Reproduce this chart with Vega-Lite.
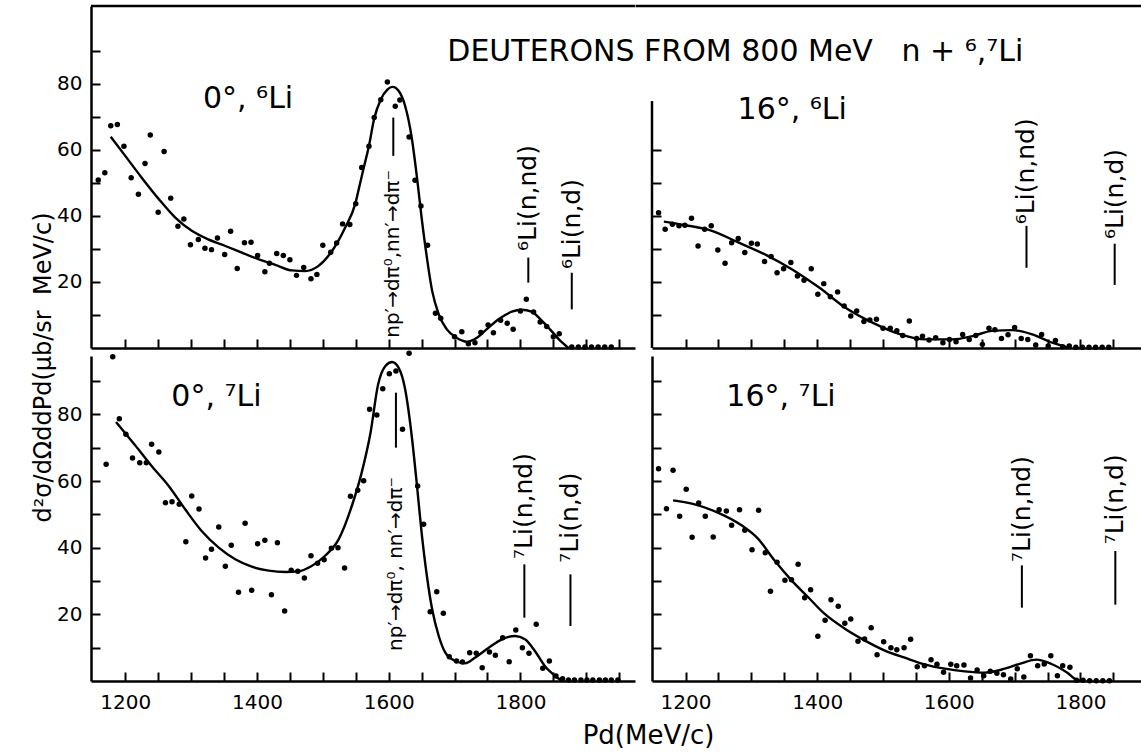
{
"$schema": "https://vega.github.io/schema/vega-lite/v6.json",
"autosize": {"type": "pad"},
"padding": {"left": 31, "top": 4, "right": 0, "bottom": 0},
"background": "white",
"bounds": "flush",
"columns": 2,
"spacing": {"row": 8, "column": 17},
"config": {
  "view": {"stroke": null},
  "font": "DejaVu Sans",
  "text": {"font": "DejaVu Sans", "color": "black"},
  "axis": {"domainColor": "black", "domainWidth": 2.5, "tickColor": "black", "tickWidth": 2, "tickSize": -9, "labelColor": "black", "labelFont": "DejaVu Sans", "labelFontSize": 20, "grid": false, "labelFlush": false, "labelOverlap": false, "titleColor": "black", "titleFont": "DejaVu Sans", "titleFontWeight": "normal"},
  "axisX": {"labelPadding": 20},
  "axisY": {"labelPadding": 18}
},
"datasets": {
  "tl_pts": [
    {"P":1159,"v":50.9},{"P":1169,"v":53.1},{"P":1178,"v":67.3},{"P":1188,"v":67.7},{"P":1198,"v":61.1},{"P":1209,"v":51.6},{"P":1220,"v":46.6},{"P":1230,"v":55.9},{"P":1238,"v":64.5},{"P":1250,"v":41.1},{"P":1259,"v":59.5},{"P":1269,"v":45.4},{"P":1280,"v":36.9},{"P":1289,"v":39.1},{"P":1299,"v":31.3},{"P":1311,"v":32.9},{"P":1321,"v":30.2},{"P":1331,"v":29.8},{"P":1340,"v":33.3},{"P":1351,"v":28.3},{"P":1360,"v":35.4},{"P":1370,"v":24.1},{"P":1381,"v":31.9},{"P":1391,"v":32.0},{"P":1401,"v":28.0},{"P":1412,"v":23.1},{"P":1419,"v":25.7},{"P":1430,"v":28.6},{"P":1440,"v":28.0},{"P":1450,"v":26.7},{"P":1460,"v":22.0},{"P":1471,"v":24.4},{"P":1482,"v":21.0},{"P":1491,"v":22.3},{"P":1500,"v":31.1},{"P":1512,"v":29.0},{"P":1521,"v":31.8},{"P":1530,"v":37.6},{"P":1541,"v":37.4},{"P":1550,"v":43.7},{"P":1559,"v":54.7},{"P":1570,"v":61.1},{"P":1578,"v":69.8},{"P":1588,"v":75.2},{"P":1598,"v":80.6},{"P":1610,"v":73.2},{"P":1617,"v":75.1},{"P":1631,"v":63.9},{"P":1640,"v":50.8},{"P":1649,"v":43.0},{"P":1659,"v":31.1},{"P":1671,"v":10.5},{"P":1679,"v":9.0},{"P":1700,"v":3.4},{"P":1711,"v":4.9},{"P":1721,"v":1.3},{"P":1731,"v":1.6},{"P":1740,"v":4.7},{"P":1751,"v":7.0},{"P":1759,"v":4.6},{"P":1770,"v":8.4},{"P":1780,"v":7.5},{"P":1789,"v":5.7},{"P":1800,"v":11.2},{"P":1809,"v":14.8},{"P":1820,"v":10.9},{"P":1830,"v":7.9},{"P":1840,"v":6.5},{"P":1850,"v":3.4},{"P":1859,"v":4.3},{"P":1878,"v":0.3},{"P":1888,"v":0.3},{"P":1898,"v":0.3},{"P":1908,"v":0.3},{"P":1918,"v":0.3},{"P":1928,"v":0.3},{"P":1938,"v":0.3}
  ],
  "tl_fit": [
    {"P":1178,"v":64.0},{"P":1200,"v":58.2},{"P":1225,"v":51.6},{"P":1251,"v":45.1},{"P":1276,"v":39.5},{"P":1301,"v":35.5},{"P":1326,"v":32.9},{"P":1352,"v":30.9},{"P":1377,"v":28.9},{"P":1402,"v":26.9},{"P":1428,"v":25.2},{"P":1453,"v":23.5},{"P":1473,"v":23.3},{"P":1493,"v":24.8},{"P":1514,"v":29.4},{"P":1534,"v":36.5},{"P":1549,"v":43.5},{"P":1556,"v":49.4},{"P":1562,"v":54.5},{"P":1570,"v":61.2},{"P":1578,"v":69.5},{"P":1588,"v":75.3},{"P":1598,"v":78.3},{"P":1606,"v":79.1},{"P":1615,"v":77.9},{"P":1625,"v":73.3},{"P":1635,"v":63.7},{"P":1643,"v":51.6},{"P":1650,"v":39.5},{"P":1658,"v":27.4},{"P":1666,"v":17.3},{"P":1676,"v":10.2},{"P":1688,"v":5.7},{"P":1703,"v":3.1},{"P":1719,"v":1.9},{"P":1734,"v":3.1},{"P":1749,"v":5.7},{"P":1769,"v":9.0},{"P":1787,"v":11.0},{"P":1802,"v":11.6},{"P":1817,"v":11.0},{"P":1832,"v":8.4},{"P":1847,"v":5.2},{"P":1860,"v":2.3},{"P":1873,"v":0}
  ],
  "tl_rules": [{"P":1607,"v":58.2,"v2":69.8},{"P":1812,"v":19.8,"v2":27.4},{"P":1878,"v":11.7,"v2":22.8}],
  "tl_frame": [{"P":1148,"P2":1974,"v":103.6,"v2":103.6}],
  "tl_np": [{"P":1607,"v":3.1,"label":"np′→dπ⁰,nn′→dπ⁻"}],
  "tl_li": [{"P":1812,"v":29.4,"label":"⁶Li(n,nd)"},{"P":1878,"v":23.9,"label":"⁶Li(n,d)"}],
  "tl_lab": [{"P":1318,"v":72.6,"label":"0°, ⁶Li"},{"P":1689,"v":87,"label":"DEUTERONS FROM 800 MeV\u00a0\u00a0\u00a0n + ⁶,⁷Li"}],
  "bl_pts": [
    {"P":1181,"v":97.3},{"P":1171,"v":65.0},{"P":1191,"v":78.7},{"P":1201,"v":74.0},{"P":1211,"v":66.9},{"P":1222,"v":65.5},{"P":1232,"v":65.5},{"P":1240,"v":71.0},{"P":1251,"v":68.7},{"P":1261,"v":53.5},{"P":1271,"v":53.8},{"P":1282,"v":53.0},{"P":1292,"v":41.8},{"P":1301,"v":55.5},{"P":1312,"v":51.6},{"P":1322,"v":36.9},{"P":1331,"v":39.5},{"P":1342,"v":46.2},{"P":1352,"v":34.4},{"P":1361,"v":40.7},{"P":1372,"v":26.6},{"P":1382,"v":47.3},{"P":1392,"v":27.2},{"P":1401,"v":41.2},{"P":1412,"v":42.2},{"P":1422,"v":25.9},{"P":1431,"v":41.5},{"P":1442,"v":21.0},{"P":1452,"v":33.2},{"P":1462,"v":32.9},{"P":1472,"v":30.9},{"P":1482,"v":37.6},{"P":1492,"v":35.3},{"P":1502,"v":36.4},{"P":1513,"v":39.8},{"P":1523,"v":40.0},{"P":1533,"v":33.9},{"P":1542,"v":55.4},{"P":1553,"v":57.2},{"P":1562,"v":60.1},{"P":1571,"v":81.5},{"P":1582,"v":79.8},{"P":1591,"v":87.7},{"P":1601,"v":92.2},{"P":1611,"v":93.0},{"P":1621,"v":75.5},{"P":1631,"v":98.3},{"P":1644,"v":58.5},{"P":1653,"v":47.0},{"P":1663,"v":20.8},{"P":1673,"v":26.8},{"P":1683,"v":20.3},{"P":1692,"v":7.3},{"P":1703,"v":6.0},{"P":1712,"v":5.7},{"P":1723,"v":8.5},{"P":1733,"v":8.3},{"P":1742,"v":4.0},{"P":1753,"v":8.7},{"P":1762,"v":7.7},{"P":1773,"v":13.0},{"P":1783,"v":5.8},{"P":1793,"v":15.3},{"P":1803,"v":10.0},{"P":1813,"v":8.3},{"P":1824,"v":17.0},{"P":1834,"v":3.8},{"P":1844,"v":6.0},{"P":1854,"v":1.5},{"P":1864,"v":0.7},{"P":1873,"v":0.3},{"P":1882,"v":0.3},{"P":1892,"v":0.3},{"P":1901,"v":0.3},{"P":1910,"v":0.3},{"P":1920,"v":0.3},{"P":1929,"v":0.3},{"P":1938,"v":0.3},{"P":1948,"v":0.3}
  ],
  "bl_fit": [
    {"P":1186,"v":77.7},{"P":1215,"v":70.7},{"P":1240,"v":64.5},{"P":1266,"v":58.5},{"P":1291,"v":51.5},{"P":1316,"v":45.0},{"P":1342,"v":40.0},{"P":1367,"v":36.5},{"P":1392,"v":34.3},{"P":1418,"v":33.1},{"P":1443,"v":32.7},{"P":1463,"v":32.9},{"P":1483,"v":34.5},{"P":1503,"v":37.5},{"P":1524,"v":42.5},{"P":1544,"v":52.5},{"P":1559,"v":62.5},{"P":1572,"v":74.0},{"P":1584,"v":89.0},{"P":1595,"v":94.5},{"P":1605,"v":95.7},{"P":1615,"v":94.0},{"P":1625,"v":87.5},{"P":1635,"v":73.5},{"P":1643,"v":58.5},{"P":1650,"v":44.5},{"P":1658,"v":31.5},{"P":1666,"v":21.5},{"P":1676,"v":13.5},{"P":1686,"v":8.5},{"P":1701,"v":6.0},{"P":1716,"v":5.3},{"P":1731,"v":7.0},{"P":1752,"v":10.0},{"P":1772,"v":12.5},{"P":1792,"v":13.5},{"P":1807,"v":12.5},{"P":1822,"v":9.0},{"P":1837,"v":4.5},{"P":1853,"v":1.5},{"P":1863,"v":0}
  ],
  "bl_rules": [{"P":1611,"v":70,"v2":86.5},{"P":1806,"v":19,"v2":35},{"P":1876,"v":16.5,"v2":32}],
  "bl_np": [{"P":1611,"v":9,"label":"np′→dπ⁰,\u00a0nn′→dπ⁻"}],
  "bl_li": [{"P":1806,"v":36.6,"label":"⁷Li(n,nd)"},{"P":1876,"v":35.5,"label":"⁷Li(n,d)"}],
  "bl_lab": [{"P":1270,"v":82.5,"label":"0°, ⁷Li"}],
  "tr_pts": [
    {"P":1159,"v":41.0},{"P":1169,"v":36.0},{"P":1180,"v":37.5},{"P":1190,"v":37.0},{"P":1199,"v":37.2},{"P":1209,"v":39.3},{"P":1219,"v":30.9},{"P":1229,"v":36.0},{"P":1239,"v":37.0},{"P":1249,"v":29.7},{"P":1260,"v":25.7},{"P":1270,"v":31.9},{"P":1280,"v":33.2},{"P":1290,"v":28.9},{"P":1300,"v":31.7},{"P":1309,"v":31.5},{"P":1320,"v":26.2},{"P":1330,"v":27.7},{"P":1339,"v":22.8},{"P":1349,"v":24.0},{"P":1360,"v":25.9},{"P":1370,"v":21.8},{"P":1380,"v":20.5},{"P":1391,"v":24.0},{"P":1401,"v":16.3},{"P":1410,"v":19.5},{"P":1420,"v":15.5},{"P":1431,"v":17.0},{"P":1441,"v":12.7},{"P":1451,"v":9.7},{"P":1460,"v":11.2},{"P":1471,"v":8.0},{"P":1480,"v":8.5},{"P":1490,"v":8.7},{"P":1500,"v":6.0},{"P":1511,"v":6.0},{"P":1521,"v":5.2},{"P":1530,"v":3.8},{"P":1540,"v":8.2},{"P":1551,"v":2.9},{"P":1560,"v":3.6},{"P":1570,"v":2.4},{"P":1580,"v":3.1},{"P":1591,"v":1.6},{"P":1601,"v":2.6},{"P":1611,"v":1.9},{"P":1621,"v":4.1},{"P":1631,"v":2.6},{"P":1641,"v":3.8},{"P":1651,"v":1.1},{"P":1661,"v":6.0},{"P":1670,"v":5.5},{"P":1680,"v":2.9},{"P":1690,"v":4.0},{"P":1700,"v":6.2},{"P":1710,"v":2.9},{"P":1720,"v":2.6},{"P":1732,"v":0.9},{"P":1741,"v":4.1},{"P":1751,"v":0.6},{"P":1762,"v":2.3},{"P":1773,"v":0.4},{"P":1783,"v":0.6},{"P":1793,"v":0.2},{"P":1803,"v":0.2},{"P":1813,"v":0.2},{"P":1823,"v":0.2},{"P":1833,"v":0.2},{"P":1843,"v":0.2}
  ],
  "tr_fit": [
    {"P":1167,"v":38.3},{"P":1200,"v":37.2},{"P":1240,"v":35.5},{"P":1281,"v":31.9},{"P":1322,"v":28.2},{"P":1362,"v":23.8},{"P":1403,"v":18.3},{"P":1443,"v":12.2},{"P":1484,"v":7.7},{"P":1524,"v":4.3},{"P":1565,"v":2.6},{"P":1605,"v":2.6},{"P":1636,"v":3.6},{"P":1666,"v":5.2},{"P":1697,"v":5.4},{"P":1727,"v":4.1},{"P":1757,"v":1.6},{"P":1783,"v":0}
  ],
  "tr_rules": [{"P":1718,"v":24.3,"v2":37},{"P":1852,"v":19.1,"v2":31.6}],
  "tr_frame": [{"P":1149,"P2":1149,"v":0,"v2":74.8},{"P":1124,"P2":1892,"v":103.6,"v2":103.6}],
  "tr_li": [{"P":1718,"v":37.5,"label":"⁶Li(n,nd)"},{"P":1852,"v":33,"label":"⁶Li(n,d)"}],
  "tr_lab": [{"P":1279,"v":69.4,"label":"16°, ⁶Li"}],
  "br_pts": [
    {"P":1159,"v":63.7},{"P":1171,"v":51.7},{"P":1181,"v":63.2},{"P":1191,"v":49.4},{"P":1201,"v":57.5},{"P":1210,"v":43.1},{"P":1220,"v":53.4},{"P":1230,"v":49.4},{"P":1242,"v":43.2},{"P":1251,"v":51.4},{"P":1262,"v":51.0},{"P":1270,"v":46.7},{"P":1282,"v":51.4},{"P":1290,"v":45.2},{"P":1301,"v":39.4},{"P":1311,"v":51.2},{"P":1321,"v":38.5},{"P":1329,"v":26.9},{"P":1339,"v":35.6},{"P":1351,"v":30.2},{"P":1361,"v":30.4},{"P":1371,"v":35.0},{"P":1381,"v":25.0},{"P":1390,"v":27.4},{"P":1401,"v":13.4},{"P":1412,"v":18.2},{"P":1421,"v":24.4},{"P":1432,"v":22.4},{"P":1442,"v":17.3},{"P":1451,"v":18.6},{"P":1462,"v":11.9},{"P":1472,"v":12.6},{"P":1482,"v":16.0},{"P":1491,"v":7.9},{"P":1501,"v":11.8},{"P":1512,"v":10.0},{"P":1521,"v":9.4},{"P":1532,"v":10.0},{"P":1542,"v":12.5},{"P":1552,"v":4.3},{"P":1563,"v":4.6},{"P":1573,"v":6.4},{"P":1582,"v":5.0},{"P":1592,"v":2.6},{"P":1603,"v":5.0},{"P":1612,"v":4.6},{"P":1623,"v":4.8},{"P":1633,"v":0.9},{"P":1643,"v":3.3},{"P":1653,"v":1.6},{"P":1663,"v":2.9},{"P":1673,"v":2.3},{"P":1683,"v":1.9},{"P":1694,"v":0.6},{"P":1704,"v":3.7},{"P":1714,"v":1.2},{"P":1724,"v":7.6},{"P":1735,"v":4.6},{"P":1745,"v":5.1},{"P":1755,"v":7.6},{"P":1765,"v":1.6},{"P":1773,"v":4.6},{"P":1784,"v":4.1},{"P":1794,"v":0.2},{"P":1804,"v":0.2},{"P":1814,"v":0.1},{"P":1824,"v":0.1},{"P":1834,"v":0.1},{"P":1844,"v":0.1}
  ],
  "br_fit": [
    {"P":1181,"v":54.2},{"P":1214,"v":53.0},{"P":1249,"v":50.5},{"P":1285,"v":46.7},{"P":1310,"v":42.7},{"P":1335,"v":36.2},{"P":1361,"v":30.2},{"P":1386,"v":25.2},{"P":1411,"v":20.2},{"P":1442,"v":15.7},{"P":1472,"v":12.2},{"P":1502,"v":9.2},{"P":1533,"v":7.0},{"P":1563,"v":5.0},{"P":1594,"v":3.7},{"P":1624,"v":2.9},{"P":1654,"v":2.5},{"P":1685,"v":3.7},{"P":1710,"v":5.3},{"P":1733,"v":6.4},{"P":1756,"v":5.1},{"P":1779,"v":2.6},{"P":1796,"v":0.2},{"P":1806,"v":0}
  ],
  "br_rules": [{"P":1711,"v":22,"v2":34.7},{"P":1853,"v":22.9,"v2":39}],
  "br_li": [{"P":1711,"v":35.7,"label":"⁷Li(n,nd)"},{"P":1853,"v":41,"label":"⁷Li(n,d)"}],
  "br_lab": [{"P":1262,"v":82.6,"label":"16°, ⁷Li"}]
},
"concat": [
  {
    "width": 544, "height": 342,
    "encoding": {
      "x": {"field": "P", "type": "quantitative", "scale": {"domain": [1148, 1974], "nice": false, "zero": false},
            "axis": {"values": [1200,1250,1300,1350,1400,1450,1500,1550,1600,1650,1700,1750,1800,1850,1900,1950], "labels": false, "title": null}},
      "y": {"field": "v", "type": "quantitative", "scale": {"domain": [0, 103.6], "nice": false, "zero": false},
            "axis": {"values": [10,20,30,40,50,60,70,80,90], "labelExpr": "datum.value % 20 == 0 ? datum.label : ''",
                     "title": "d²σ/dΩddPd(μb/sr\u00a0\u00a0MeV/c)", "titleX": -41, "titleY": 361, "titleAngle": 270, "titleAlign": "center", "titleBaseline": "alphabetic", "titleFontSize": 24}}
    },
    "layer": [
      {"data": {"name": "tl_pts"}, "mark": {"type": "circle", "size": 30, "color": "black", "opacity": 1}},
      {"data": {"name": "tl_fit"}, "mark": {"type": "line", "interpolate": "monotone", "strokeWidth": 2.4, "color": "black"}},
      {"data": {"name": "tl_rules"}, "mark": {"type": "rule", "strokeWidth": 2, "color": "black"}, "encoding": {"y2": {"field": "v2"}}},
      {"data": {"name": "tl_frame"}, "mark": {"type": "rule", "strokeWidth": 2.5, "color": "black"}, "encoding": {"x2": {"field": "P2"}, "y2": {"field": "v2"}}},
      {"data": {"name": "tl_np"}, "mark": {"type": "text", "angle": 270, "align": "left", "baseline": "middle", "fontSize": 20, "color": "black"}, "encoding": {"text": {"field": "label"}}},
      {"data": {"name": "tl_li"}, "mark": {"type": "text", "angle": 270, "align": "left", "baseline": "middle", "fontSize": 25, "color": "black"}, "encoding": {"text": {"field": "label"}}},
      {"data": {"name": "tl_lab"}, "mark": {"type": "text", "align": "left", "baseline": "alphabetic", "fontSize": 30, "color": "black"}, "encoding": {"text": {"field": "label"}}}
    ]
  },
  {
    "width": 489, "height": 342,
    "encoding": {
      "x": {"field": "P", "type": "quantitative", "scale": {"domain": [1149, 1892], "nice": false, "zero": false},
            "axis": {"values": [1200,1250,1300,1350,1400,1450,1500,1550,1600,1650,1700,1750,1800,1850], "labels": false, "title": null}},
      "y": {"field": "v", "type": "quantitative", "scale": {"domain": [0, 103.6], "nice": false, "zero": false},
            "axis": {"values": [10,20,30,40,50,60], "labels": false, "domain": false, "title": null}}
    },
    "layer": [
      {"data": {"name": "tr_pts"}, "mark": {"type": "circle", "size": 30, "color": "black", "opacity": 1}},
      {"data": {"name": "tr_fit"}, "mark": {"type": "line", "interpolate": "monotone", "strokeWidth": 2.4, "color": "black"}},
      {"data": {"name": "tr_rules"}, "mark": {"type": "rule", "strokeWidth": 2, "color": "black"}, "encoding": {"y2": {"field": "v2"}}},
      {"data": {"name": "tr_frame"}, "mark": {"type": "rule", "strokeWidth": 2.5, "color": "black"}, "encoding": {"x2": {"field": "P2"}, "y2": {"field": "v2"}}},
      {"data": {"name": "tr_li"}, "mark": {"type": "text", "angle": 270, "align": "left", "baseline": "middle", "fontSize": 25, "color": "black"}, "encoding": {"text": {"field": "label"}}},
      {"data": {"name": "tr_lab"}, "mark": {"type": "text", "align": "left", "baseline": "alphabetic", "fontSize": 30, "color": "black"}, "encoding": {"text": {"field": "label"}}}
    ]
  },
  {
    "width": 544, "height": 325,
    "encoding": {
      "x": {"field": "P", "type": "quantitative", "scale": {"domain": [1148, 1974], "nice": false, "zero": false},
            "axis": {"values": [1200,1250,1300,1350,1400,1450,1500,1550,1600,1650,1700,1750,1800,1850,1900,1950], "format": "d", "labelExpr": "datum.value % 200 == 0 ? datum.label : ''",
                     "title": "Pd(MeV/c)", "titleX": 557, "titleY": 62, "titleAlign": "center", "titleBaseline": "alphabetic", "titleFontSize": 26}},
      "y": {"field": "v", "type": "quantitative", "scale": {"domain": [0, 97.5], "nice": false, "zero": false},
            "axis": {"values": [10,20,30,40,50,60,70,80,90], "labelExpr": "datum.value % 20 == 0 ? datum.label : ''", "title": null}}
    },
    "layer": [
      {"data": {"name": "bl_pts"}, "mark": {"type": "circle", "size": 30, "color": "black", "opacity": 1}},
      {"data": {"name": "bl_fit"}, "mark": {"type": "line", "interpolate": "monotone", "strokeWidth": 2.4, "color": "black"}},
      {"data": {"name": "bl_rules"}, "mark": {"type": "rule", "strokeWidth": 2, "color": "black"}, "encoding": {"y2": {"field": "v2"}}},
      {"data": {"name": "bl_np"}, "mark": {"type": "text", "angle": 270, "align": "left", "baseline": "middle", "fontSize": 20, "color": "black"}, "encoding": {"text": {"field": "label"}}},
      {"data": {"name": "bl_li"}, "mark": {"type": "text", "angle": 270, "align": "left", "baseline": "middle", "fontSize": 25, "color": "black"}, "encoding": {"text": {"field": "label"}}},
      {"data": {"name": "bl_lab"}, "mark": {"type": "text", "align": "left", "baseline": "alphabetic", "fontSize": 30, "color": "black"}, "encoding": {"text": {"field": "label"}}}
    ]
  },
  {
    "width": 489, "height": 325,
    "encoding": {
      "x": {"field": "P", "type": "quantitative", "scale": {"domain": [1149, 1892], "nice": false, "zero": false},
            "axis": {"values": [1200,1250,1300,1350,1400,1450,1500,1550,1600,1650,1700,1750,1800,1850], "format": "d", "labelExpr": "datum.value % 200 == 0 ? datum.label : ''", "title": null}},
      "y": {"field": "v", "type": "quantitative", "scale": {"domain": [0, 97.5], "nice": false, "zero": false},
            "axis": {"values": [10,20,30,40,50,60,70,80,90], "labels": false, "title": null}}
    },
    "layer": [
      {"data": {"name": "br_pts"}, "mark": {"type": "circle", "size": 30, "color": "black", "opacity": 1}},
      {"data": {"name": "br_fit"}, "mark": {"type": "line", "interpolate": "monotone", "strokeWidth": 2.4, "color": "black"}},
      {"data": {"name": "br_rules"}, "mark": {"type": "rule", "strokeWidth": 2, "color": "black"}, "encoding": {"y2": {"field": "v2"}}},
      {"data": {"name": "br_li"}, "mark": {"type": "text", "angle": 270, "align": "left", "baseline": "middle", "fontSize": 25, "color": "black"}, "encoding": {"text": {"field": "label"}}},
      {"data": {"name": "br_lab"}, "mark": {"type": "text", "align": "left", "baseline": "alphabetic", "fontSize": 30, "color": "black"}, "encoding": {"text": {"field": "label"}}}
    ]
  }
]
}
